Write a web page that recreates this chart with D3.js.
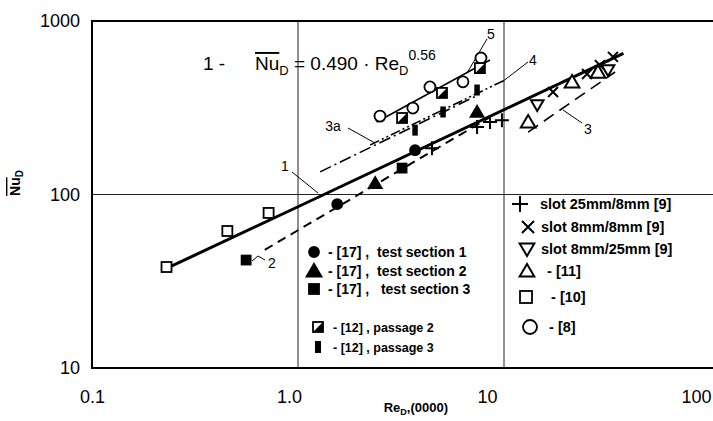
<!DOCTYPE html>
<html>
<head>
<meta charset="utf-8">
<script src="https://cdn.jsdelivr.net/npm/d3@7"></script>
<style>
  body { margin: 0; background: #fff; }
  svg { display: block; font-family: "Liberation Sans", Arial, sans-serif; }
  text { white-space: pre; }
</style>
</head>
<body>
<div id="chart"></div>
<script>
// Re_D is in units of 10^4 (axis "Re_D,(0000)"), values are [Re_D, Nu_D]
const slot25x8 = [[4.47, 185], [7.4, 245], [8.55, 262], [9.77, 268]];
const slot8x8 = [[17.3, 390], [25.3, 495], [29.2, 557], [33.8, 621]];
const slot8x25 = [[14.5, 328], [32.0, 522]];
const ref11 = [[13.1, 262], [21.4, 445], [28.6, 508]];
const ref10 = [[0.23, 38.2], [0.454, 61.6], [0.72, 78.3]];
const ref8 = [[2.5, 283], [3.61, 315], [4.37, 417], [6.32, 446], [7.73, 612]];
const section1 = [[1.55, 88], [3.7, 180]];
const section2 = [[2.37, 116], [7.4, 299]];
const section3 = [[0.56, 41.9], [3.2, 142]];
const passage2 = [[3.2, 276], [5.0, 385], [7.64, 535]];
const passage3 = [[3.7, 235], [5.06, 299], [7.4, 400]];

// correlation lines
const line1 = [[0.23, 37.5], [1, 85], [38, 650]];
const line2 = [[0.69, 48], [8.5, 278]];
const line3 = [[13.1, 229], [34.6, 508]];
const line3a = [[1.28, 135], [7.48, 374]];
const line4 = [[2.24, 193], [10.1, 457]];
const line5 = [[2.41, 262], [8.55, 596]];

const xTicks = [0.1, 1, 10, 100];
const xTickLabels = ["0.1", "1.0", "10", "100"];
const yTicks = [10, 100, 1000];
const yTickLabels = ["10", "100", "1000"];

const rightLegend = [
  ["plus", "slot 25mm/8mm [9]"],
  ["times", "slot 8mm/8mm [9]"],
  ["triDown", "slot 8mm/25mm [9]"],
  ["tri", " - [11]"],
  ["square", "  - [10]"],
  ["circle", " - [8]"]
];
const leftLegend = [
  ["dot", "- [17] ,  test section 1"],
  ["triFill", "- [17] ,  test section 2"],
  ["squareFill", "- [17] ,   test section 3"],
  ["half", "- [12] , passage 2"],
  ["bar", "- [12] , passage 3"]
];

const width = 713, height = 421;
const mLeft = 92, mTop = 21, mBottom = 368, mRight = 713;

const svg = d3.select("#chart").append("svg")
  .attr("width", width).attr("height", height);

const x = d3.scaleLog().domain([0.1, 100]).range([mLeft, 710]);
const y = d3.scaleLog().domain([10, 1000]).range([mBottom, mTop]);

// grid lines
svg.append("g").attr("stroke", "#222").attr("stroke-width", 1)
  .selectAll("line").data([1, 10]).enter().append("line")
  .attr("x1", d => x(d)).attr("x2", d => x(d))
  .attr("y1", mTop).attr("y2", mBottom);
svg.append("line").attr("stroke", "#222").attr("stroke-width", 1)
  .attr("x1", mLeft).attr("x2", mRight).attr("y1", y(100)).attr("y2", y(100));

// frame
svg.append("path").attr("fill", "none").attr("stroke", "#000").attr("stroke-width", 2)
  .attr("d", `M${mRight},${mTop}H${mLeft}V${mBottom}H${mRight}`);

// axes (the scanned labels sit a little left of their grid lines)
const xLabelShift = [0, -9, -17, -14];
const xAxis = d3.axisBottom(x).tickValues(xTicks)
  .tickFormat((d, i) => xTickLabels[i]).tickSize(0).tickPadding(22);
svg.append("g").attr("transform", `translate(0,${mBottom})`).call(xAxis)
  .call(g => g.select(".domain").remove())
  .selectAll("text").attr("font-size", 18).attr("font-family", "Liberation Sans, Arial")
  .attr("fill", "#000").attr("dx", (d, i) => xLabelShift[i]);

const yAxis = d3.axisLeft(y).tickValues(yTicks)
  .tickFormat((d, i) => yTickLabels[i]).tickSize(0).tickPadding(12);
svg.append("g").attr("transform", `translate(${mLeft},0)`).call(yAxis)
  .call(g => g.select(".domain").remove())
  .selectAll("text").attr("font-size", 18).attr("font-family", "Liberation Sans, Arial").attr("fill", "#000");

// axis titles
const yTitle = svg.append("text").attr("transform", "translate(20,183) rotate(-90)")
  .attr("text-anchor", "middle").attr("font-size", 14).attr("font-weight", "bold");
yTitle.append("tspan").attr("text-decoration", "overline").text("Nu");
yTitle.append("tspan").attr("font-size", 10).attr("dy", 3).text("D");

const xTitle = svg.append("text").attr("x", 448).attr("y", 412)
  .attr("text-anchor", "end").attr("font-size", 13).attr("font-weight", "bold");
xTitle.append("tspan").text("Re");
xTitle.append("tspan").attr("font-size", 9).attr("dy", 3).text("D");
xTitle.append("tspan").attr("dy", -3).text(",(0000)");

// formula
svg.append("text").attr("x", 203).attr("y", 70).attr("font-size", 19).text("1 -");
const formula = svg.append("text").attr("x", 255).attr("y", 70).attr("font-size", 19);
formula.append("tspan").attr("text-decoration", "overline").text("Nu");
formula.append("tspan").attr("font-size", 13).attr("dy", 5).text("D");
formula.append("tspan").attr("dy", -5).text(" = 0.490 \u00b7 Re");
formula.append("tspan").attr("font-size", 13).attr("dy", 5).text("D");
formula.append("tspan").attr("font-size", 14).attr("dy", -15).text("0.56");

// lines
const lineGen = d3.line().x(d => x(d[0])).y(d => y(d[1]));
const lines = [
  [line1, 3, null],
  [line2, 2, "9,6"],
  [line3, 1.6, "12,7"],
  [line3a, 1.6, "12,4,2,4"],
  [line4, 1.6, "10,3,2,3,2,3"],
  [line5, 1.6, null]
];
lines.forEach(([data, w, dash]) => {
  svg.append("path").datum(data).attr("d", lineGen)
    .attr("fill", "none").attr("stroke", "#000").attr("stroke-width", w)
    .attr("stroke-dasharray", dash);
});

// line labels with leaders
const labels = [
  ["1", 285, 171, [[292, 172], [318, 193]]],
  ["2", 272, 268, [[252, 261], [258, 256], [265, 260]]],
  ["3a", 333, 131, [[348, 128], [375, 143]]],
  ["3", 588, 134, [[582, 123], [563, 110]]],
  ["4", 533, 65, [[528, 62], [502, 82]]],
  ["5", 491, 39, [[487, 39], [467, 73]]]
];
labels.forEach(([t, lx, ly, pts]) => {
  svg.append("text").attr("x", lx).attr("y", ly).attr("text-anchor", "middle")
    .attr("font-size", 14).text(t);
  svg.append("path").attr("d", d3.line()(pts)).attr("fill", "none")
    .attr("stroke", "#000").attr("stroke-width", 1);
});

// markers
function marker(g, type, s) {
  if (type === "plus") {
    g.append("path").attr("d", `M${-s},0H${s}M0,${-s}V${s}`)
      .attr("stroke", "#000").attr("stroke-width", 2).attr("fill", "none");
  } else if (type === "times") {
    g.append("path").attr("d", `M${-s},${-s}L${s},${s}M${-s},${s}L${s},${-s}`)
      .attr("stroke", "#000").attr("stroke-width", 2).attr("fill", "none");
  } else if (type === "tri" || type === "triFill") {
    g.append("path").attr("d", `M0,${-s}L${s * 1.05},${s * 0.8}L${-s * 1.05},${s * 0.8}Z`)
      .attr("stroke", "#000").attr("stroke-width", 2)
      .attr("fill", type === "tri" ? "#fff" : "#000");
  } else if (type === "triDown") {
    g.append("path").attr("d", `M0,${s}L${s * 1.05},${-s * 0.8}L${-s * 1.05},${-s * 0.8}Z`)
      .attr("stroke", "#000").attr("stroke-width", 2).attr("fill", "#fff");
  } else if (type === "square" || type === "squareFill") {
    g.append("rect").attr("x", -s).attr("y", -s).attr("width", 2 * s).attr("height", 2 * s)
      .attr("stroke", "#000").attr("stroke-width", 1.8)
      .attr("fill", type === "square" ? "#fff" : "#000");
  } else if (type === "circle" || type === "dot") {
    g.append("circle").attr("r", s).attr("stroke", "#000").attr("stroke-width", 1.8)
      .attr("fill", type === "circle" ? "#fff" : "#000");
  } else if (type === "half") {
    g.append("rect").attr("x", -s).attr("y", -s).attr("width", 2 * s).attr("height", 2 * s)
      .attr("stroke", "#000").attr("stroke-width", 1.8).attr("fill", "#fff");
    g.append("path").attr("d", `M${s},${-s}L${s},${s}L${-s},${s}Z`).attr("fill", "#000");
  } else if (type === "bar") {
    g.append("rect").attr("x", -s * 0.5).attr("y", -s).attr("width", s).attr("height", 2 * s)
      .attr("fill", "#000");
  }
}

const series = [
  [slot25x8, "plus", 7],
  [slot8x8, "times", 5],
  [slot8x25, "triDown", 6],
  [ref11, "tri", 7],
  [ref10, "square", 5],
  [ref8, "circle", 5.5],
  [section1, "dot", 5],
  [section2, "triFill", 6],
  [section3, "squareFill", 4.5],
  [passage2, "half", 5],
  [passage3, "bar", 5.5]
];
series.forEach(([data, type, s]) => {
  svg.append("g").selectAll("g").data(data).enter().append("g")
    .attr("transform", d => `translate(${x(d[0])},${y(d[1])})`)
    .each(function () { marker(d3.select(this), type, s); });
});

// right legend
const rx = [520, 528, 527, 527, 526, 530];
const ry = [204, 227, 249, 271, 297, 327];
const rtx = [540, 541, 541, 543, 543, 545];
rightLegend.forEach(([type, label], i) => {
  const g = svg.append("g").attr("transform", `translate(${rx[i]},${ry[i]})`);
  marker(g, type, [8, 6, 7, 7, 6, 7][i]);
  svg.append("text").attr("x", rtx[i]).attr("y", ry[i] + 5)
    .attr("font-size", 14.5).attr("font-weight", "bold").text(label);
});

// left legend
const ly = [252, 271, 289, 327, 347];
leftLegend.forEach(([type, label], i) => {
  const g = svg.append("g").attr("transform", `translate(${i < 3 ? 314 : 318},${ly[i]})`);
  marker(g, type, [5, 7, 5, 5, 6][i]);
  svg.append("text").attr("x", i < 3 ? 328 : 333).attr("y", ly[i] + 5)
    .attr("font-size", i < 3 ? 14 : 12.5).attr("font-weight", "bold").text(label);
});
</script>
</body>
</html>
